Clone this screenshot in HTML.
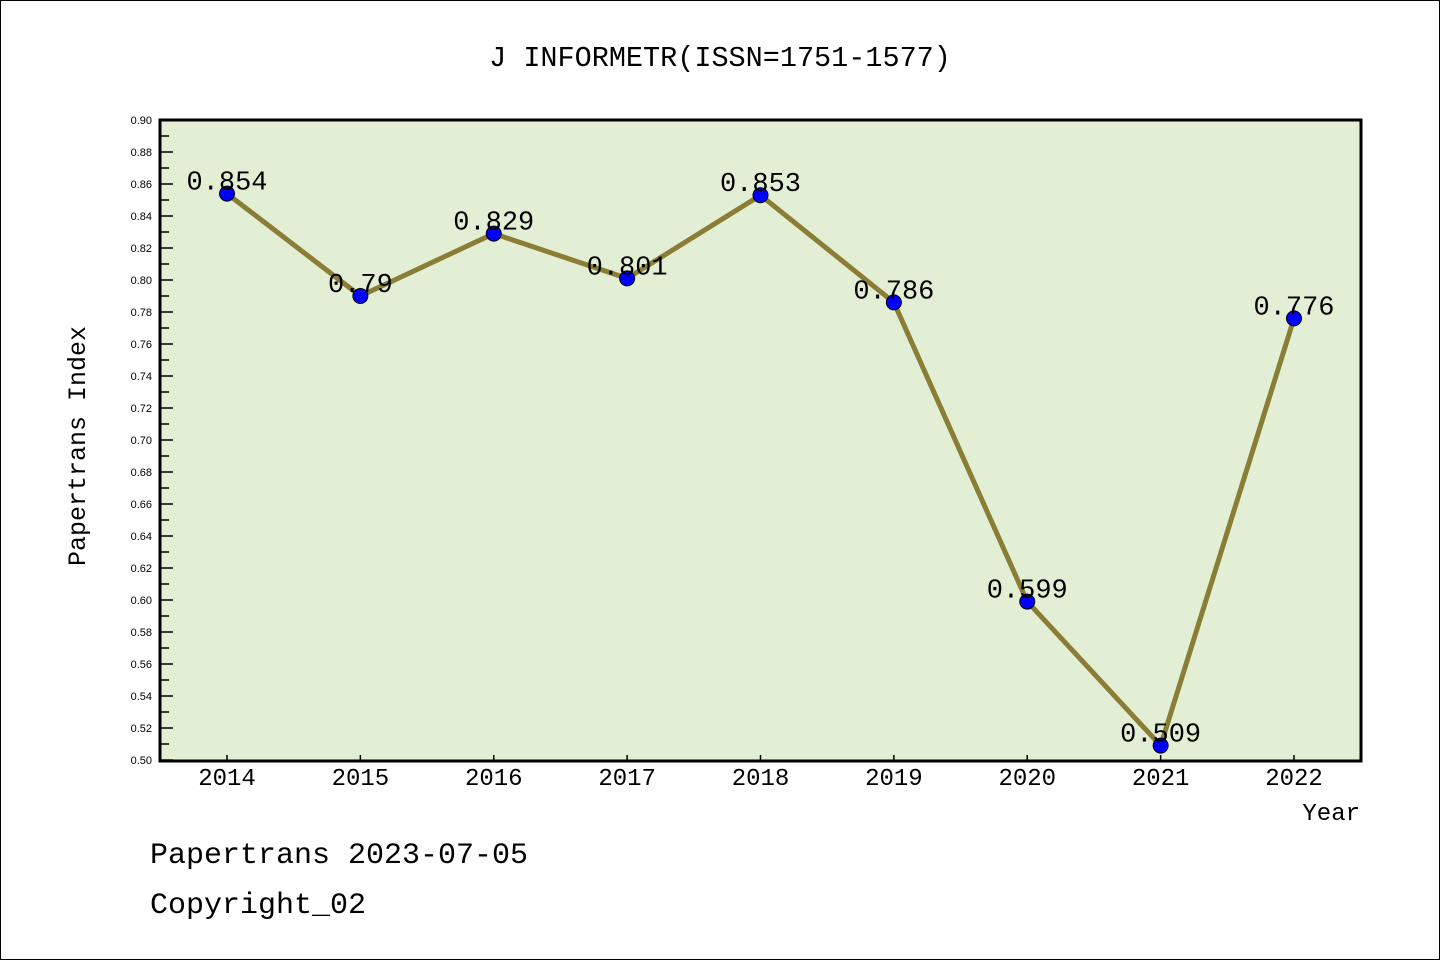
<!DOCTYPE html>
<html><head><meta charset="utf-8"><style>
html,body{margin:0;padding:0;background:#fff}
svg{display:block}
text{font-family:"Liberation Mono","Noto Sans CJK SC",monospace}
text.tick{font-family:"Liberation Sans",sans-serif}
</style></head><body>
<svg id="chart" width="1440" height="960">
<rect x="0.5" y="0.5" width="1439" height="959" fill="#fff" stroke="#000"/>
<text x="720" y="66" text-anchor="middle" font-size="28.5">J INFORMETR(ISSN=1751-1577)</text>
<rect x="160" y="120" width="1201" height="641" fill="#e2efd5"/>
<g id="yaxis"></g>
<g id="xaxis"></g>
<g id="series"></g>
<rect x="160" y="120" width="1201" height="641" fill="none" stroke="#000" stroke-width="3"/>
<text transform="translate(85,446) rotate(-90)" text-anchor="middle" font-size="25">Papertrans Index</text>
<text x="1360" y="820" text-anchor="end" font-size="24">Year</text>
<text x="150" y="863" font-size="30">Papertrans 2023-07-05</text>
<text x="150" y="913" font-size="30">Copyright_02</text>
</svg>
<script>
const categories = ["2014","2015","2016","2017","2018","2019","2020","2021","2022"];
const values = [0.854,0.79,0.829,0.801,0.853,0.786,0.599,0.509,0.776];
const valueLabels = ["0.854","0.79","0.829","0.801","0.853","0.786","0.599","0.509","0.776"];
const yTicks = [0.50,0.52,0.54,0.56,0.58,0.60,0.62,0.64,0.66,0.68,0.70,0.72,0.74,0.76,0.78,0.80,0.82,0.84,0.86,0.88,0.90];

const NS="http://www.w3.org/2000/svg";
const yMin=0.5,yMax=0.9,plotTop=120,plotBot=760;
function y(v){return plotBot-(v-yMin)/(yMax-yMin)*(plotBot-plotTop);}
function x(i){return 227+i*(1294-227)/(categories.length-1);}
function mk(t,a,p){const e=document.createElementNS(NS,t);for(const k in a)e.setAttribute(k,a[k]);p.appendChild(e);return e;}
const ya=document.getElementById('yaxis'),xa=document.getElementById('xaxis'),sr=document.getElementById('series');
yTicks.forEach((v,i)=>{
  const l=mk('line',{x1:160,x2:173,y1:y(v),y2:y(v),stroke:'#000','stroke-width':1.5},ya);
  
  
  const t=mk('text',{x:152,y:y(v)+4,'text-anchor':'end','font-size':11,'class':'tick'},ya);
  t.textContent=v.toFixed(2);
  
  
  if(i<yTicks.length-1){
    const m=mk('line',{x1:160,x2:169,y1:y(v+0.01),y2:y(v+0.01),stroke:'#000','stroke-width':1.5},ya);
    
    
  }
});
categories.forEach((c,i)=>{
  const l=mk('line',{x1:x(i),x2:x(i),y1:755,y2:761,stroke:'#000','stroke-width':1.5},xa);
  
  
  const t=mk('text',{x:x(i),y:785,'text-anchor':'middle','font-size':24},xa);
  t.textContent=c;
  
  
});
const pl=mk('polyline',{points:values.map((v,i)=>x(i)+','+y(v)).join(' '),fill:'none',stroke:'#8a7d35','stroke-width':5,'stroke-linejoin':'round'},sr);


values.forEach((v,i)=>{
  const c=mk('circle',{cx:x(i),cy:y(v),r:7.5,fill:'#0000ff',stroke:'#000','stroke-width':1},sr);
  
  
  const t=mk('text',{x:x(i),y:y(v)-4,'text-anchor':'middle','font-size':27},sr);
  t.textContent=valueLabels[i];
  
  
});
</script>
</body></html>
